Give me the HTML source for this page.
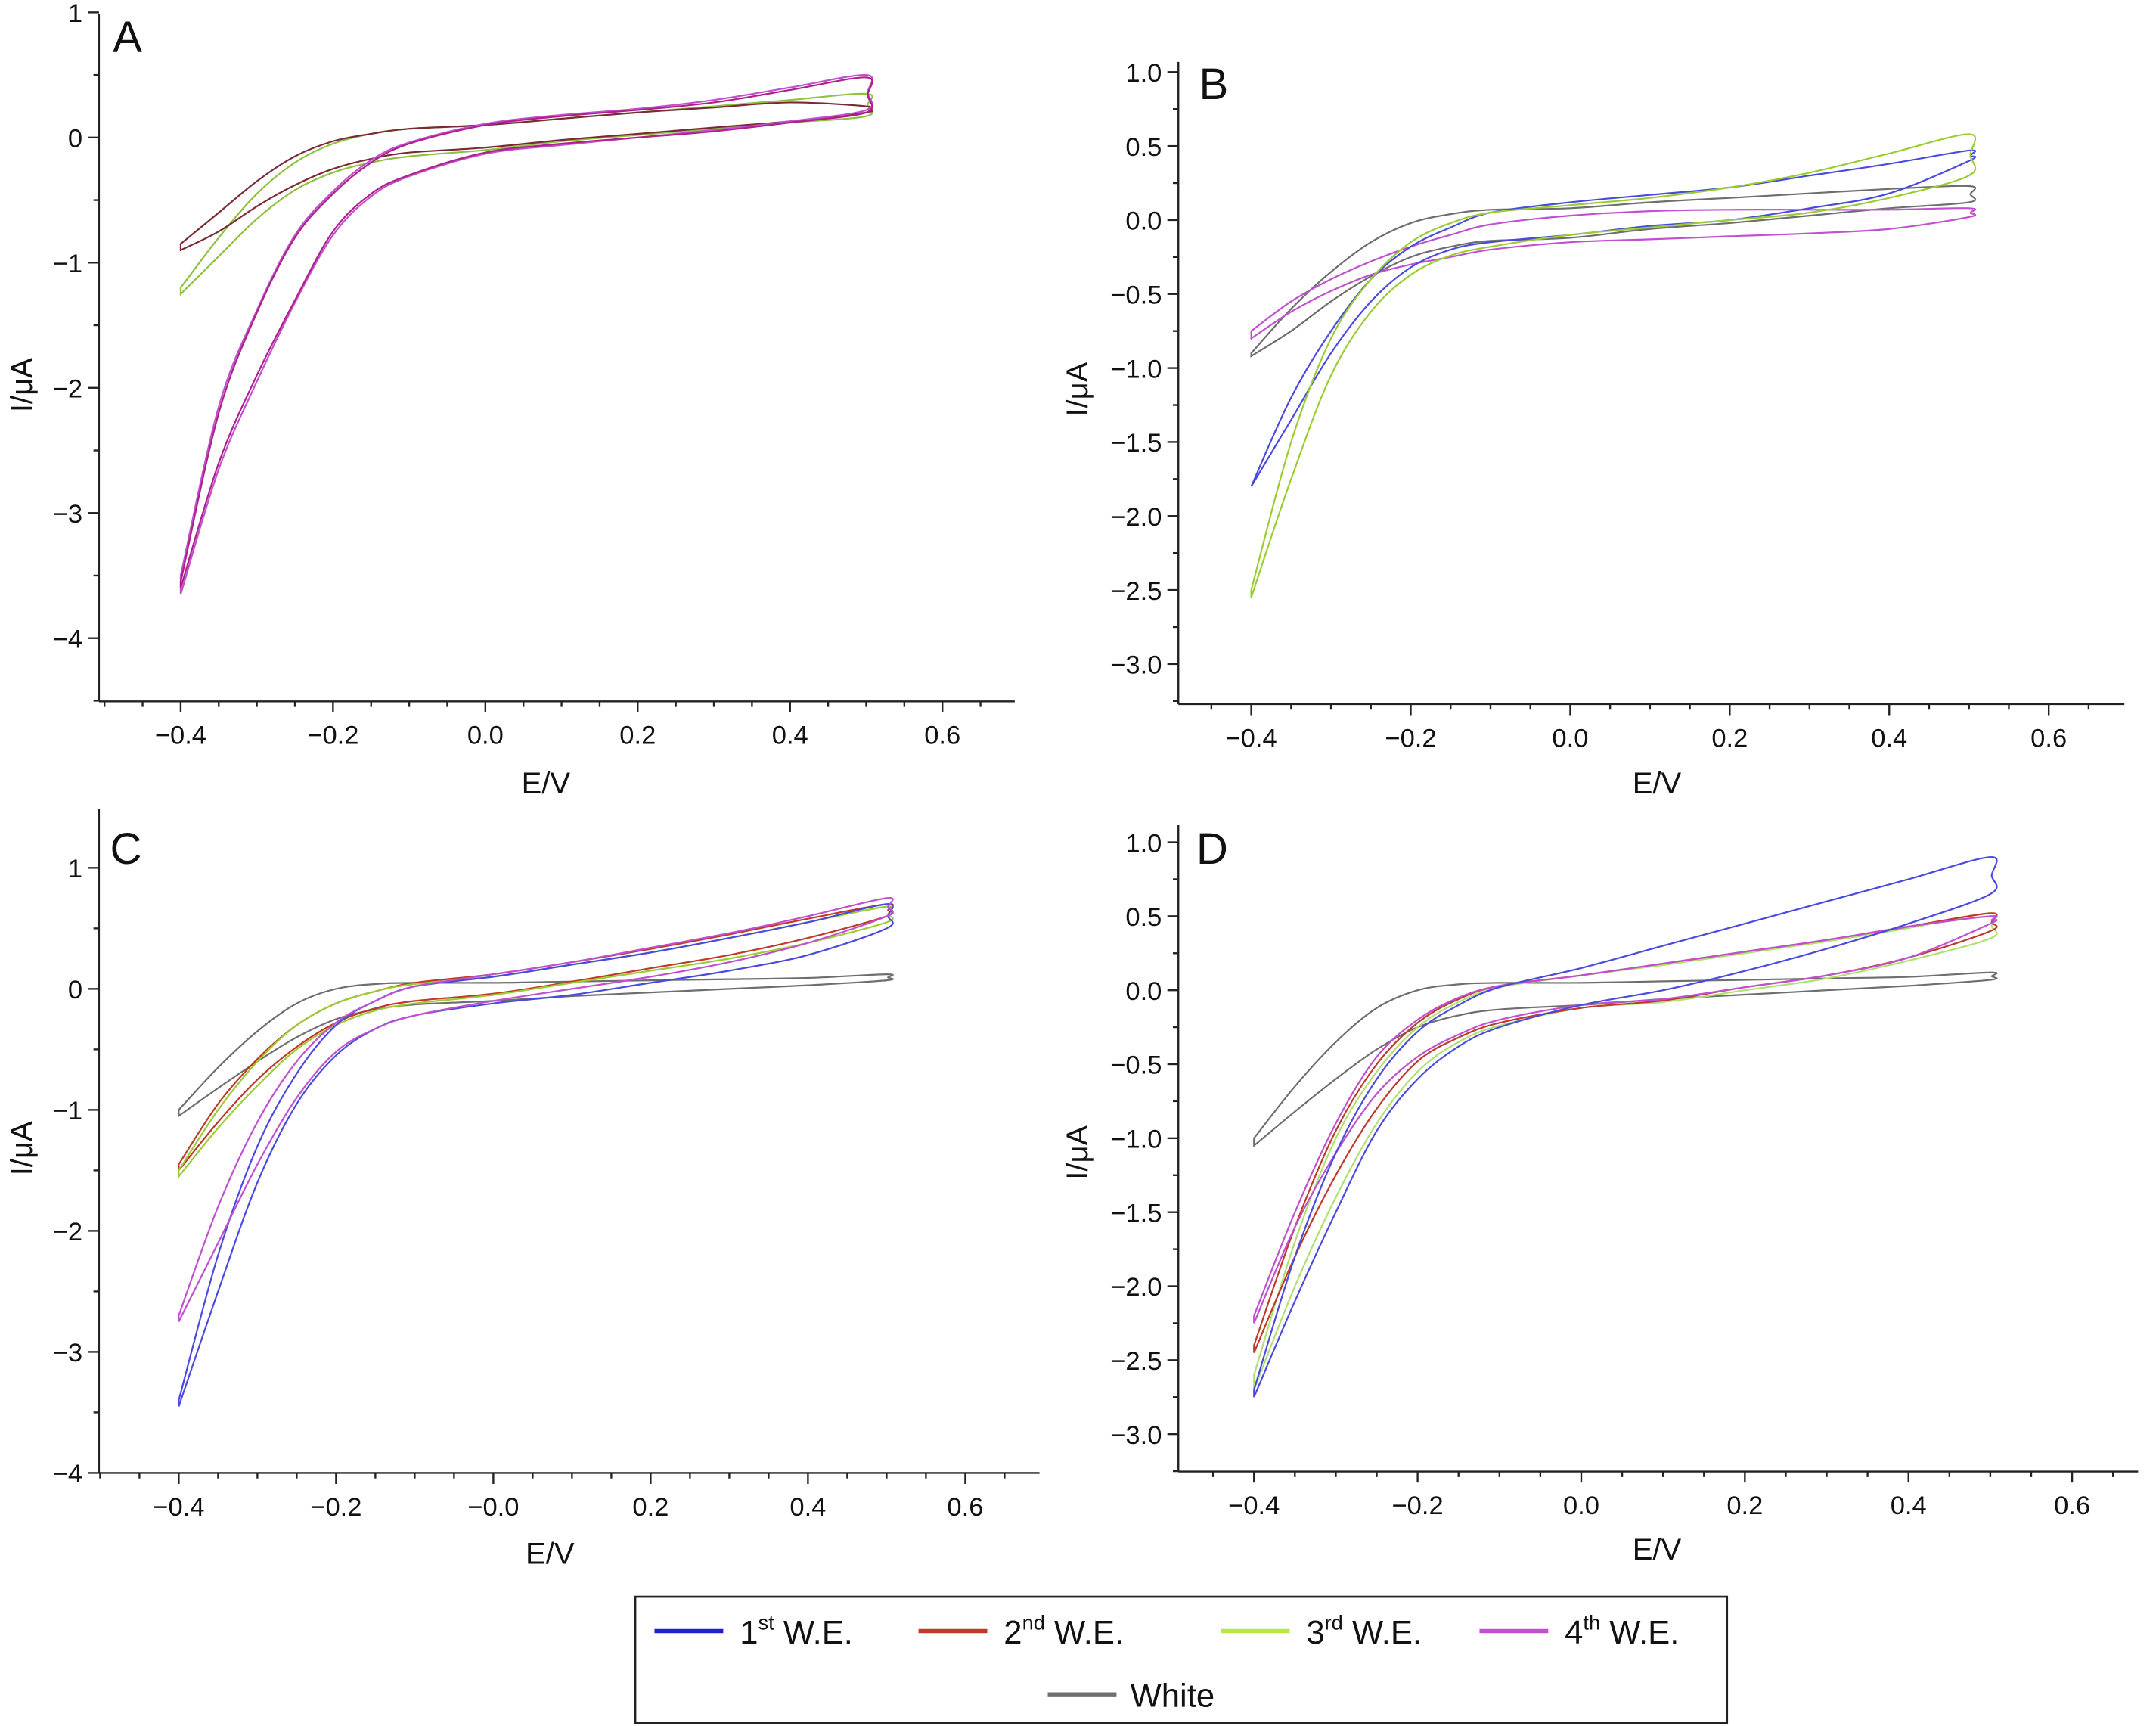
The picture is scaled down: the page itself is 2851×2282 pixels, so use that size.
<!DOCTYPE html>
<html><head><meta charset="utf-8">
<style>
html,body{margin:0;padding:0;background:#fff;}
svg{display:block;}
text{font-family:"Liberation Sans",Arial,sans-serif;fill:#111;}
</style></head>
<body>
<svg id="fig" width="2851" height="2282" viewBox="0 0 1568 1255" preserveAspectRatio="none" xmlns="http://www.w3.org/2000/svg"></svg>
<script>
// Shared potential grid (V)
const potentials = [-0.4,-0.35,-0.3,-0.25,-0.2,-0.15,-0.1,0,0.1,0.2,0.3,0.4,0.5];

// Panel A currents (µA): lower (forward) and upper (reverse) branches
const aMagLow = [-3.6,-2.6,-1.9,-1.3,-0.75,-0.45,-0.3,-0.12,-0.05,0.0,0.05,0.12,0.2];
const aMagUp  = [-3.55,-2.2,-1.4,-0.8,-0.45,-0.2,-0.05,0.1,0.17,0.22,0.28,0.38,0.48];
const aMag2Low= [-3.65,-2.65,-1.95,-1.32,-0.78,-0.47,-0.31,-0.13,-0.06,0.0,0.06,0.13,0.22];
const aMag2Up = [-3.5,-2.15,-1.38,-0.78,-0.43,-0.18,-0.04,0.11,0.18,0.23,0.3,0.4,0.5];
const aRedLow = [-0.9,-0.75,-0.55,-0.38,-0.25,-0.17,-0.12,-0.08,-0.02,0.03,0.08,0.13,0.2];
const aRedUp  = [-0.85,-0.6,-0.35,-0.15,-0.03,0.03,0.07,0.1,0.15,0.2,0.24,0.28,0.25];
const aGrnLow = [-1.25,-0.95,-0.65,-0.42,-0.28,-0.2,-0.15,-0.1,-0.03,0.02,0.07,0.12,0.17];
const aGrnUp  = [-1.2,-0.8,-0.45,-0.2,-0.05,0.03,0.07,0.1,0.15,0.2,0.25,0.3,0.35];

// Panel B
const bGrnLow = [-2.55,-1.75,-1.05,-0.62,-0.37,-0.24,-0.18,-0.1,-0.05,0.0,0.05,0.15,0.3];
const bGrnUp  = [-2.5,-1.5,-0.8,-0.4,-0.15,-0.02,0.05,0.1,0.15,0.22,0.32,0.45,0.58];
const bBluLow = [-1.8,-1.35,-0.9,-0.55,-0.32,-0.2,-0.15,-0.1,-0.04,0.0,0.08,0.18,0.4];
const bBluUp  = [-1.8,-1.2,-0.75,-0.4,-0.18,-0.05,0.05,0.12,0.17,0.22,0.3,0.38,0.47];
const bGryLow = [-0.92,-0.75,-0.55,-0.38,-0.25,-0.18,-0.14,-0.12,-0.06,-0.02,0.03,0.08,0.12];
const bGryUp  = [-0.9,-0.6,-0.35,-0.15,-0.02,0.04,0.07,0.08,0.12,0.15,0.18,0.21,0.23];
const bMagLow = [-0.8,-0.62,-0.48,-0.37,-0.3,-0.25,-0.2,-0.15,-0.13,-0.11,-0.09,-0.06,0.02];
const bMagUp  = [-0.75,-0.55,-0.4,-0.28,-0.18,-0.1,-0.03,0.03,0.06,0.07,0.07,0.07,0.08];

// Panel C
const cBluLow = [-3.45,-2.5,-1.6,-0.95,-0.55,-0.33,-0.22,-0.12,-0.05,0.05,0.15,0.28,0.5];
const cBluUp  = [-3.4,-2.2,-1.3,-0.7,-0.3,-0.1,0.02,0.1,0.2,0.3,0.42,0.55,0.7];
const cMagLow = [-2.75,-2.1,-1.45,-0.9,-0.52,-0.33,-0.22,-0.1,0.0,0.1,0.22,0.38,0.6];
const cMagUp  = [-2.7,-1.8,-1.1,-0.6,-0.28,-0.1,0.02,0.12,0.22,0.34,0.46,0.6,0.75];
const cGrnLow = [-1.55,-1.15,-0.8,-0.5,-0.3,-0.18,-0.12,-0.05,0.05,0.15,0.25,0.38,0.55];
const cGrnUp  = [-1.5,-1.0,-0.6,-0.3,-0.12,-0.02,0.04,0.1,0.2,0.3,0.42,0.55,0.68];
const cRedLow = [-1.5,-1.1,-0.75,-0.48,-0.28,-0.16,-0.1,-0.04,0.06,0.17,0.28,0.42,0.6];
const cRedUp  = [-1.45,-0.95,-0.58,-0.3,-0.12,-0.02,0.05,0.12,0.22,0.33,0.45,0.58,0.7];
const cGryLow = [-1.05,-0.82,-0.6,-0.4,-0.25,-0.17,-0.13,-0.1,-0.06,-0.03,0.0,0.03,0.07];
const cGryUp  = [-1.0,-0.65,-0.35,-0.12,0.0,0.04,0.05,0.05,0.06,0.07,0.08,0.09,0.12];

// Panel D
const dBluLow = [-2.75,-2.1,-1.5,-0.95,-0.6,-0.38,-0.25,-0.1,0.0,0.13,0.28,0.45,0.65];
const dBluUp  = [-2.7,-1.8,-1.1,-0.6,-0.28,-0.1,0.02,0.15,0.3,0.45,0.6,0.75,0.9];
const dGrnLow = [-2.7,-2.0,-1.4,-0.9,-0.55,-0.35,-0.24,-0.12,-0.08,0.0,0.08,0.2,0.35];
const dGrnUp  = [-2.6,-1.7,-1.0,-0.55,-0.25,-0.08,0.02,0.1,0.17,0.25,0.33,0.42,0.52];
const dRedLow = [-2.45,-1.8,-1.25,-0.8,-0.48,-0.32,-0.22,-0.12,-0.07,0.02,0.1,0.22,0.4];
const dRedUp  = [-2.4,-1.6,-0.95,-0.5,-0.22,-0.06,0.03,0.1,0.18,0.26,0.34,0.43,0.52];
const dMagLow = [-2.25,-1.6,-1.1,-0.7,-0.45,-0.3,-0.2,-0.1,-0.06,0.02,0.1,0.22,0.45];
const dMagUp  = [-2.2,-1.5,-0.9,-0.45,-0.2,-0.05,0.03,0.1,0.18,0.26,0.34,0.43,0.5];
const dGryLow = [-1.05,-0.82,-0.6,-0.4,-0.25,-0.17,-0.13,-0.1,-0.06,-0.03,0.0,0.03,0.07];
const dGryUp  = [-1.0,-0.65,-0.35,-0.12,0.0,0.04,0.05,0.05,0.06,0.07,0.08,0.09,0.12];

// Tick labels
const xTickLabels = ["−0.4","−0.2","0.0","0.2","0.4","0.6"];
const xTickLabelsC = ["−0.4","−0.2","−0.0","0.2","0.4","0.6"];
const xTickValues = [-0.4,-0.2,0,0.2,0.4,0.6];
const yTicksInt = [1,0,-1,-2,-3,-4];
const yTicksHalf = [1.0,0.5,0.0,-0.5,-1.0,-1.5,-2.0,-2.5,-3.0];

const NS="http://www.w3.org/2000/svg";
const svg=document.getElementById('fig');
function mk(tag,attrs,parent){const e=document.createElementNS(NS,tag);for(const k in attrs)e.setAttribute(k,attrs[k]);(parent||svg).appendChild(e);return e;}

const panels={
 A:{x0:353,xs:554,y0:100,ys:91,left:72,right:738,top:10,bottom:510,yt:yTicksInt,ymin:0.5,fmt:v=>v===0?"0":(v<0?"−"+(-v):""+v),xl:xTickLabels,letter:[82,38],yt_x:15,yt_y:280,et:[397,570]},
 B:{x0:1142,xs:580,y0:160,ys:107.6,left:857,right:1545,top:45,bottom:512,yt:yTicksHalf,ymin:0.25,fmt:v=>(v<0?"−":"")+Math.abs(v).toFixed(1),xl:xTickLabels,letter:[872,72],yt_x:783,yt_y:283,et:[1205,570]},
 C:{x0:358.8,xs:572,y0:719,ys:88,left:72,right:756,top:588,bottom:1071,yt:yTicksInt,ymin:0.5,fmt:v=>v===0?"0":(v<0?"−"+(-v):""+v),xl:xTickLabelsC,letter:[80,628],yt_x:15,yt_y:835,et:[400,1130]},
 D:{x0:1150,xs:595,y0:720,ys:107.6,left:857,right:1555,top:600,bottom:1070,yt:yTicksHalf,ymin:0.25,fmt:v=>(v<0?"−":"")+Math.abs(v).toFixed(1),xl:xTickLabels,letter:[870,628],yt_x:783,yt_y:838,et:[1205,1127]}
};
const COL={blue:"#4a4ae0",red:"#c0392b",green:"#9acd32",mag:"#c050d0",gray:"#6e6e6e",magA:"#b0208a",redA:"#7a2a35",greenA:"#8fc040"};

function smoothPath(pts){
 let d="M"+pts[0][0].toFixed(1)+","+pts[0][1].toFixed(1);
 for(let i=0;i<pts.length-1;i++){
  const p0=pts[Math.max(0,i-1)],p1=pts[i],p2=pts[i+1],p3=pts[Math.min(pts.length-1,i+2)];
  const c1=[p1[0]+(p2[0]-p0[0])/6,p1[1]+(p2[1]-p0[1])/6];
  const c2=[p2[0]-(p3[0]-p1[0])/6,p2[1]-(p3[1]-p1[1])/6];
  d+=" C"+c1[0].toFixed(1)+","+c1[1].toFixed(1)+" "+c2[0].toFixed(1)+","+c2[1].toFixed(1)+" "+p2[0].toFixed(1)+","+p2[1].toFixed(1);
 }
 return d;
}

function drawPanel(key){
 const p=panels[key];
 const g=mk('g',{});
 
 
 const X=e=>p.x0+p.xs*e, Y=i=>p.y0-p.ys*i;
 const axes=mk('g',{stroke:"#222","stroke-width":1.3,fill:"none"},g);
 
 
 mk('line',{x1:p.left,y1:p.top,x2:p.left,y2:p.bottom},axes);
 mk('line',{x1:p.left,y1:p.bottom,x2:p.right,y2:p.bottom},axes);
 for(let v=p.yt[0];v>=p.yt[p.yt.length-1]-0.51;v-=p.ymin){
  const y=Y(v); if(y<p.top-1||y>p.bottom+1)continue;
  const major=p.yt.some(t=>Math.abs(t-v)<1e-6);
  mk('line',{x1:p.left,y1:y,x2:p.left-(major?8:4),y2:y},axes);
 }
 p.yt.forEach(v=>{
  const t=mk('text',{x:p.left-12,y:Y(v)+7,"text-anchor":"end","font-size":19},g);
  
  
  t.textContent=p.fmt(v);
 });
 for(let k=-12;k<=14;k++){
  const e=k*0.05,x=X(e); if(x<p.left-1||x>p.right+1)continue;
  const major=Math.abs(e*10-Math.round(e*10))<1e-6 && Math.round(e*10)%2===0;
  mk('line',{x1:x,y1:p.bottom,x2:x,y2:p.bottom+(major?8:4)},axes);
 }
 xTickValues.forEach((v,i)=>{
  const t=mk('text',{x:X(v),y:p.bottom+31,"text-anchor":"middle","font-size":19},g);
  
  
  t.textContent=p.xl[i];
 });
 const L=mk('text',{x:p.letter[0],y:p.letter[1],"font-size":32},g);
 
 
 L.textContent=key;
 const yt=mk('text',{x:p.yt_x+8,y:p.yt_y,"text-anchor":"middle","font-size":22,transform:"rotate(-90 "+(p.yt_x+8)+" "+p.yt_y+")"},g);
 
 
 yt.textContent="I/μA";
 const xt=mk('text',{x:p.et[0],y:p.et[1]+7,"text-anchor":"middle","font-size":22},g);
 
 
 xt.textContent="E/V";
 return {g,X,Y};
}

function drawLoop(ctx,low,up,color,name){
 const pts=potentials.map((e,i)=>[ctx.X(e),ctx.Y(low[i])]);
 const ptsU=potentials.map((e,i)=>[ctx.X(e),ctx.Y(up[i])]).reverse();
 const all=pts.concat([[ctx.X(0.5)+1,(pts[pts.length-1][1]+ptsU[0][1])/2]]).concat(ptsU);
 const path=mk('path',{d:smoothPath(all)+" Z",fill:"none",stroke:color,"stroke-width":1.2},ctx.g);
 
 
}

const A=drawPanel('A');
drawLoop(A,aGrnLow,aGrnUp,COL.greenA,'cv-a-3rd');
drawLoop(A,aRedLow,aRedUp,COL.redA,'cv-a-2nd');
drawLoop(A,aMag2Low,aMag2Up,COL.mag,'cv-a-4th-b');
drawLoop(A,aMagLow,aMagUp,COL.magA,'cv-a-4th');
const B=drawPanel('B');
drawLoop(B,bGryLow,bGryUp,COL.gray,'cv-b-white');
drawLoop(B,bMagLow,bMagUp,COL.mag,'cv-b-4th');
drawLoop(B,bBluLow,bBluUp,COL.blue,'cv-b-1st');
drawLoop(B,bGrnLow,bGrnUp,COL.green,'cv-b-3rd');
const C=drawPanel('C');
drawLoop(C,cGryLow,cGryUp,COL.gray,'cv-c-white');
drawLoop(C,cRedLow,cRedUp,COL.red,'cv-c-2nd');
drawLoop(C,cGrnLow,cGrnUp,COL.green,'cv-c-3rd');
drawLoop(C,cBluLow,cBluUp,COL.blue,'cv-c-1st');
drawLoop(C,cMagLow,cMagUp,COL.mag,'cv-c-4th');
const D=drawPanel('D');
drawLoop(D,dGryLow,dGryUp,COL.gray,'cv-d-white');
drawLoop(D,dGrnLow,dGrnUp,"#b0e070",'cv-d-3rd');
drawLoop(D,dRedLow,dRedUp,COL.red,'cv-d-2nd');
drawLoop(D,dMagLow,dMagUp,COL.mag,'cv-d-4th');
drawLoop(D,dBluLow,dBluUp,COL.blue,'cv-d-1st');

// Legend
const lg=mk('g',{});


mk('rect',{x:462,y:1161,width:794,height:92,fill:"#fff",stroke:"#222","stroke-width":1.5},lg);
const entries=[
 {x:476,y:1186,c:"#2020d0",n:"1",s:"st",lbl:"legend-1st"},
 {x:668,y:1186,c:"#c0392b",n:"2",s:"nd",lbl:"legend-2nd"},
 {x:888,y:1186,c:"#b8e840",n:"3",s:"rd",lbl:"legend-3rd"},
 {x:1076,y:1186,c:"#c050d0",n:"4",s:"th",lbl:"legend-4th"}
];
entries.forEach(en=>{
 const eg=mk('g',{},lg);
 
 
 mk('line',{x1:en.x,y1:en.y,x2:en.x+50,y2:en.y,stroke:en.c,"stroke-width":3},eg);
 const t=mk('text',{x:en.x+62,y:en.y+9,"font-size":24},eg);
 t.innerHTML=en.n+'<tspan dy="-10" font-size="15">'+en.s+'</tspan><tspan dy="10"> W.E.</tspan>';
});
const wg=mk('g',{},lg);


mk('line',{x1:762,y1:1232,x2:812,y2:1232,stroke:"#707070","stroke-width":3},wg);
const wt=mk('text',{x:822,y:1241,"font-size":24},wg);
wt.textContent="White";
</script>
</body></html>
